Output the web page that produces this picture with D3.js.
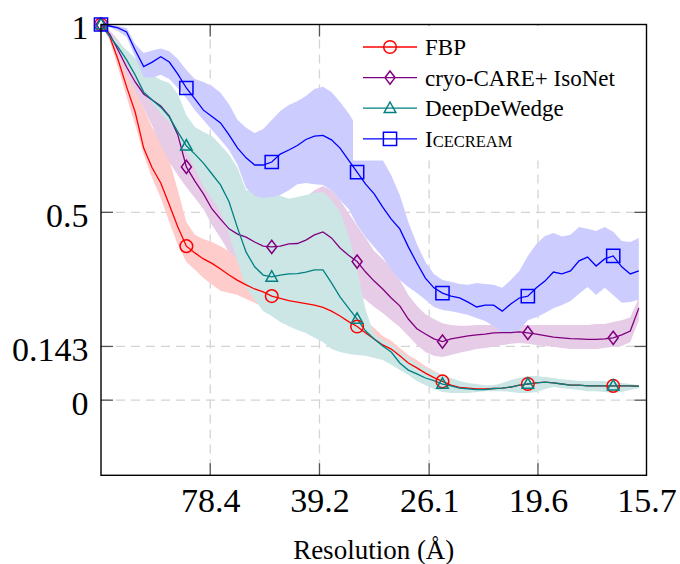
<!DOCTYPE html>
<html>
<head>
<meta charset="utf-8">
<script src="https://cdn.jsdelivr.net/npm/d3@7"></script>
<style>
  body { margin: 0; background: #fff; }
  svg { display: block; }
  .grid line { stroke: #d4d4d4; stroke-width: 1.3; stroke-dasharray: 9 6; }
  .axis path, .axis line { display: none; }
</style>
</head>
<body>
<div id="chart"></div>
<script>
// FSC curves, one value per Fourier shell (shell 0 .. 63)
const shells = d3.range(64);
const nShells = 63.9;
const nyquistRes = 15.7;

const resTicks = [78.4, 39.2, 26.1, 19.6, 15.7];
const yTicks = [0, 0.143, 0.5, 1];

const fbp = [1.000, 0.969, 0.906, 0.834, 0.767, 0.671, 0.618, 0.578, 0.520, 0.461,
  0.410, 0.392, 0.376, 0.364, 0.349, 0.333, 0.319, 0.307, 0.296, 0.288,
  0.277, 0.271, 0.265, 0.261, 0.257, 0.253, 0.247, 0.237, 0.224, 0.209,
  0.196, 0.179, 0.163, 0.147, 0.136, 0.118, 0.099, 0.086, 0.072, 0.060,
  0.050, 0.040, 0.034, 0.032, 0.030, 0.030, 0.031, 0.032, 0.035, 0.040,
  0.043, 0.046, 0.048, 0.046, 0.043, 0.040, 0.040, 0.038, 0.038, 0.038,
  0.038, 0.038, 0.038, 0.037];
const fbpHi = [1.000, 0.977, 0.932, 0.879, 0.831, 0.778, 0.725, 0.693, 0.639, 0.559,
  0.474, 0.440, 0.429, 0.421, 0.410, 0.397, 0.381, 0.363, 0.347, 0.333,
  0.320, 0.312, 0.304, 0.299, 0.293, 0.288, 0.283, 0.275, 0.261, 0.248,
  0.232, 0.213, 0.192, 0.171, 0.158, 0.139, 0.120, 0.107, 0.091, 0.078,
  0.067, 0.056, 0.048, 0.043, 0.040, 0.038, 0.038, 0.043, 0.051, 0.056,
  0.062, 0.062, 0.059, 0.056, 0.054, 0.051, 0.048, 0.048, 0.048, 0.048,
  0.046, 0.043, 0.040, 0.038];
const fbpLo = [1.000, 0.958, 0.884, 0.807, 0.733, 0.653, 0.591, 0.538, 0.474, 0.413,
  0.368, 0.347, 0.325, 0.307, 0.291, 0.285, 0.280, 0.269, 0.259, 0.248,
  0.237, 0.229, 0.224, 0.219, 0.216, 0.213, 0.208, 0.200, 0.187, 0.171,
  0.158, 0.142, 0.131, 0.120, 0.112, 0.096, 0.078, 0.064, 0.054, 0.043,
  0.032, 0.024, 0.022, 0.022, 0.024, 0.027, 0.027, 0.027, 0.024, 0.022,
  0.022, 0.024, 0.032, 0.038, 0.035, 0.032, 0.030, 0.027, 0.027, 0.024,
  0.022, 0.024, 0.030, 0.035];

const careIso = [1.000, 0.975, 0.932, 0.887, 0.847, 0.815, 0.799, 0.783, 0.756, 0.706,
  0.621, 0.583, 0.549, 0.509, 0.482, 0.456, 0.442, 0.434, 0.421, 0.410,
  0.408, 0.410, 0.416, 0.417, 0.426, 0.440, 0.448, 0.432, 0.405, 0.386,
  0.369, 0.341, 0.317, 0.296, 0.272, 0.251, 0.216, 0.190, 0.176, 0.163,
  0.156, 0.163, 0.167, 0.171, 0.174, 0.176, 0.179, 0.180, 0.180, 0.182,
  0.179, 0.176, 0.172, 0.168, 0.166, 0.164, 0.163, 0.162, 0.162, 0.163,
  0.166, 0.174, 0.184, 0.245];
const careIsoHi = [1.000, 0.985, 0.959, 0.927, 0.900, 0.879, 0.863, 0.847, 0.826, 0.786,
  0.719, 0.666, 0.626, 0.586, 0.546, 0.506, 0.485, 0.474, 0.464, 0.464,
  0.469, 0.480, 0.496, 0.525, 0.541, 0.559, 0.570, 0.559, 0.533, 0.498,
  0.464, 0.432, 0.397, 0.376, 0.352, 0.320, 0.280, 0.251, 0.229, 0.216,
  0.205, 0.200, 0.198, 0.198, 0.200, 0.200, 0.200, 0.200, 0.200, 0.200,
  0.200, 0.200, 0.200, 0.200, 0.200, 0.200, 0.200, 0.200, 0.203, 0.203,
  0.208, 0.213, 0.221, 0.272];
const careIsoLo = [1.000, 0.964, 0.921, 0.866, 0.823, 0.778, 0.730, 0.679, 0.634, 0.599,
  0.567, 0.538, 0.509, 0.466, 0.432, 0.394, 0.378, 0.368, 0.360, 0.357,
  0.357, 0.363, 0.368, 0.368, 0.373, 0.378, 0.378, 0.368, 0.341, 0.312,
  0.285, 0.267, 0.248, 0.232, 0.213, 0.195, 0.171, 0.147, 0.128, 0.118,
  0.115, 0.120, 0.126, 0.131, 0.136, 0.139, 0.142, 0.147, 0.150, 0.152,
  0.150, 0.147, 0.144, 0.142, 0.139, 0.136, 0.136, 0.136, 0.136, 0.139,
  0.142, 0.144, 0.155, 0.213];

const deepDeWedge = [1.000, 0.969, 0.940, 0.906, 0.866, 0.820, 0.799, 0.780, 0.754, 0.714,
  0.677, 0.655, 0.631, 0.602, 0.573, 0.528, 0.458, 0.394, 0.355, 0.333,
  0.328, 0.333, 0.336, 0.337, 0.341, 0.347, 0.347, 0.312, 0.275, 0.245,
  0.216, 0.184, 0.163, 0.144, 0.128, 0.099, 0.080, 0.070, 0.059, 0.052,
  0.043, 0.038, 0.032, 0.030, 0.028, 0.028, 0.031, 0.032, 0.035, 0.040,
  0.043, 0.046, 0.048, 0.046, 0.043, 0.040, 0.040, 0.038, 0.038, 0.038,
  0.038, 0.038, 0.038, 0.037];
const deepDeWedgeHi = [1.000, 0.977, 0.953, 0.932, 0.911, 0.887, 0.866, 0.852, 0.844, 0.815,
  0.759, 0.727, 0.714, 0.703, 0.679, 0.653, 0.618, 0.559, 0.559, 0.565,
  0.554, 0.544, 0.536, 0.541, 0.546, 0.552, 0.554, 0.533, 0.501, 0.440,
  0.347, 0.240, 0.174, 0.160, 0.147, 0.128, 0.112, 0.096, 0.086, 0.075,
  0.067, 0.059, 0.051, 0.046, 0.043, 0.040, 0.040, 0.046, 0.054, 0.059,
  0.064, 0.064, 0.062, 0.059, 0.056, 0.054, 0.051, 0.051, 0.051, 0.051,
  0.048, 0.046, 0.043, 0.040];
const deepDeWedgeLo = [1.000, 0.964, 0.932, 0.898, 0.858, 0.818, 0.791, 0.764, 0.740, 0.698,
  0.661, 0.618, 0.570, 0.536, 0.501, 0.440, 0.368, 0.299, 0.267, 0.237,
  0.224, 0.208, 0.197, 0.187, 0.179, 0.166, 0.155, 0.136, 0.128, 0.123,
  0.120, 0.118, 0.112, 0.107, 0.094, 0.080, 0.067, 0.051, 0.040, 0.030,
  0.022, 0.019, 0.019, 0.019, 0.022, 0.024, 0.024, 0.024, 0.022, 0.019,
  0.019, 0.022, 0.030, 0.035, 0.032, 0.030, 0.027, 0.024, 0.024, 0.022,
  0.019, 0.022, 0.027, 0.032];

const icecream = [1.000, 0.996, 0.991, 0.980, 0.932, 0.888, 0.900, 0.914, 0.900, 0.868,
  0.831, 0.802, 0.772, 0.755, 0.738, 0.706, 0.671, 0.645, 0.626, 0.626,
  0.634, 0.655, 0.666, 0.678, 0.694, 0.703, 0.705, 0.693, 0.671, 0.639,
  0.607, 0.575, 0.549, 0.514, 0.482, 0.456, 0.408, 0.365, 0.325, 0.299,
  0.285, 0.277, 0.272, 0.261, 0.248, 0.253, 0.253, 0.237, 0.256, 0.272,
  0.277, 0.299, 0.317, 0.341, 0.336, 0.344, 0.371, 0.381, 0.357, 0.376,
  0.384, 0.355, 0.336, 0.344];
const icecreamHi = [1.000, 0.999, 0.996, 0.991, 0.948, 0.924, 0.931, 0.936, 0.929, 0.908,
  0.879, 0.855, 0.847, 0.836, 0.818, 0.788, 0.746, 0.725, 0.711, 0.722,
  0.746, 0.770, 0.786, 0.796, 0.810, 0.828, 0.834, 0.820, 0.794, 0.764,
  0.727, 0.693, 0.666, 0.639, 0.599, 0.546, 0.474, 0.416, 0.368, 0.336,
  0.320, 0.315, 0.309, 0.307, 0.312, 0.309, 0.307, 0.299, 0.320, 0.344,
  0.384, 0.416, 0.437, 0.445, 0.436, 0.440, 0.461, 0.456, 0.450, 0.461,
  0.448, 0.424, 0.421, 0.432];
const icecreamLo = [1.000, 0.993, 0.983, 0.967, 0.914, 0.860, 0.858, 0.866, 0.855, 0.831,
  0.804, 0.772, 0.746, 0.719, 0.693, 0.666, 0.626, 0.565, 0.544, 0.538,
  0.541, 0.546, 0.559, 0.575, 0.578, 0.575, 0.573, 0.559, 0.533, 0.509,
  0.466, 0.434, 0.408, 0.381, 0.347, 0.320, 0.301, 0.285, 0.267, 0.248,
  0.240, 0.237, 0.232, 0.227, 0.219, 0.211, 0.197, 0.179, 0.179, 0.187,
  0.213, 0.221, 0.232, 0.245, 0.253, 0.264, 0.283, 0.301, 0.280, 0.299,
  0.280, 0.259, 0.261, 0.267];

const markEvery = 10;

const series = [
  { name: 'FBP', color: '#ff0000', fill: '#ffcccc', mark: 'circle', mean: fbp, lo: fbpLo, hi: fbpHi },
  { name: 'cryo-CARE+ IsoNet', color: '#800080', fill: '#e6cce6', mark: 'diamond', mean: careIso, lo: careIsoLo, hi: careIsoHi },
  { name: 'DeepDeWedge', color: '#008080', fill: '#cce6e6', mark: 'triangle', mean: deepDeWedge, lo: deepDeWedgeLo, hi: deepDeWedgeHi },
  { name: 'Icecream', color: '#0000ff', fill: '#ccccff', mark: 'square', mean: icecream, lo: icecreamLo, hi: icecreamHi }
];

const serif = '"Liberation Serif", "Times New Roman", serif';
const W = 680, H = 564;
const margin = { top: 24.5, right: 33.5, bottom: 88.7, left: 101 };
const width = W - margin.left - margin.right;
const height = H - margin.top - margin.bottom;

const svg = d3.select('#chart').append('svg')
  .attr('width', W)
  .attr('height', H);
const g = svg.append('g')
  .attr('transform', 'translate(' + margin.left + ',' + margin.top + ')');

const x = d3.scaleLinear().domain([0, nShells]).range([0, width]);
const y = d3.scaleLinear().domain([-0.2, 1]).range([height, 0]);
const shellOf = r => nShells * nyquistRes / r;

// grid
g.append('g').attr('class', 'grid')
  .selectAll('line').data(resTicks.slice(0, -1)).enter().append('line')
  .attr('x1', d => x(shellOf(d))).attr('x2', d => x(shellOf(d)))
  .attr('y1', 0).attr('y2', height);
g.append('g').attr('class', 'grid')
  .selectAll('line').data(yTicks.slice(0, -1)).enter().append('line')
  .attr('x1', 0).attr('x2', width)
  .attr('y1', d => y(d)).attr('y2', d => y(d));

// inward tick marks on all four sides
const tickLen = 12;
const ticks = g.append('g').attr('stroke', '#555').attr('stroke-width', 1.3);
resTicks.slice(0, -1).forEach(r => {
  const px = x(shellOf(r));
  ticks.append('line').attr('x1', px).attr('x2', px).attr('y1', height).attr('y2', height - tickLen);
  ticks.append('line').attr('x1', px).attr('x2', px).attr('y1', 0).attr('y2', tickLen);
});
yTicks.slice(0, -1).forEach(v => {
  ticks.append('line').attr('x1', 0).attr('x2', tickLen).attr('y1', y(v)).attr('y2', y(v));
  ticks.append('line').attr('x1', width).attr('x2', width - tickLen).attr('y1', y(v)).attr('y2', y(v));
});

g.append('clipPath').attr('id', 'clip')
  .append('rect').attr('x', 0).attr('y', -8).attr('width', width).attr('height', height + 8);
const plot = g.append('g').attr('clip-path', 'url(#clip)');

const area = s => d3.area()
  .x(i => x(i))
  .y0(i => y(s.lo[i]))
  .y1(i => y(s.hi[i]));
const line = s => d3.line()
  .x(i => x(i))
  .y(i => y(s.mean[i]));

series.forEach(s => {
  plot.append('path')
    .datum(shells)
    .attr('d', area(s))
    .attr('fill', s.fill)
    .attr('stroke', 'none');
});

function markerPath (shape) {
  if (shape === 'circle') return d3.symbol(d3.symbolCircle, Math.PI * 6.3 * 6.3)();
  if (shape === 'square') return 'M-6.6,-6.6H6.6V6.6H-6.6Z';
  if (shape === 'diamond') return 'M0,-6.6L5,0L0,6.6L-5,0Z';
  return 'M0,-6.2L5.8,4.2H-5.8Z';
}

series.forEach(s => {
  plot.append('path')
    .datum(shells)
    .attr('d', line(s))
    .attr('fill', 'none')
    .attr('stroke', s.color)
    .attr('stroke-width', 1.3);
});

series.forEach(s => {
  g.append('g')
    .selectAll('path')
    .data(shells.filter(i => i % markEvery === 0))
    .enter()
    .append('path')
    .attr('transform', i => 'translate(' + x(i) + ',' + y(s.mean[i]) + ')')
    .attr('d', markerPath(s.mark))
    .attr('fill', 'none')
    .attr('stroke', s.color)
    .attr('stroke-width', 1.5);
});

// legend
const legend = g.append('g').attr('transform', 'translate(252,0)');
legend.append('rect')
  .attr('x', 0).attr('y', 1).attr('width', 285).attr('height', 135)
  .attr('fill', '#fff');
const item = legend.selectAll('.item').data(series).enter().append('g')
  .attr('class', 'item')
  .attr('transform', (d, i) => 'translate(0,' + (22.5 + i * 30.6) + ')');
item.append('line')
  .attr('x1', 10).attr('x2', 64)
  .attr('stroke', d => d.color).attr('stroke-width', 1.3);
item.append('path')
  .attr('transform', 'translate(37,0)')
  .attr('d', d => markerPath(d.mark))
  .attr('fill', 'none')
  .attr('stroke', d => d.color)
  .attr('stroke-width', 1.5);
item.each(function (d) {
  const t = d3.select(this).append('text')
    .attr('x', 72).attr('y', 8)
    .style('font-family', serif)
    .style('font-size', '23px')
    .style('fill', '#000');
  if (d.name === 'Icecream') {
    t.append('tspan').text('I');
    t.append('tspan').style('font-size', '16.5px').text('CECREAM');
  } else {
    t.text(d.name);
  }
});

// frame
g.append('rect')
  .attr('width', width).attr('height', height)
  .attr('fill', 'none').attr('stroke', '#000').attr('stroke-width', 1.4);

// tick labels
g.append('g').attr('class', 'axis')
  .attr('transform', 'translate(0,' + height + ')')
  .call(d3.axisBottom(x)
    .tickValues(resTicks.map(shellOf))
    .tickFormat((d, i) => resTicks[i].toFixed(1))
    .tickSize(0).tickPadding(0))
  .selectAll('text')
  .attr('dy', null).attr('y', 36.7)
  .style('font-family', serif).style('font-size', '34px').style('fill', '#000');

g.append('g').attr('class', 'axis')
  .call(d3.axisLeft(y)
    .tickValues(yTicks)
    .tickFormat(d => String(d))
    .tickSize(0).tickPadding(12.5))
  .selectAll('text')
  .attr('dy', '0.38em').attr('y', 1.5)
  .style('font-family', serif).style('font-size', '34px').style('fill', '#000');

svg.append('text')
  .attr('x', margin.left + width / 2)
  .attr('y', 558.5)
  .attr('text-anchor', 'middle')
  .style('font-family', serif)
  .style('font-size', '27px')
  .text('Resolution (Å)');
</script>
</body>
</html>
